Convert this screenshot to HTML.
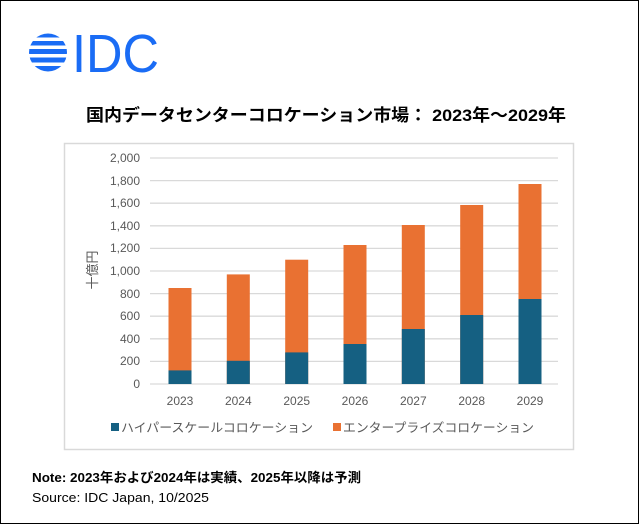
<!DOCTYPE html>
<html><head><meta charset="utf-8"><style>
html,body{margin:0;padding:0;background:#fff}
svg{display:block}
</style></head><body>
<svg width="639" height="524" viewBox="0 0 639 524" xmlns="http://www.w3.org/2000/svg" font-family="'Liberation Sans','Noto Sans CJK JP',sans-serif">
<rect x="0.5" y="0.5" width="638" height="523" fill="#fff" stroke="#000" stroke-width="1"/>
<defs><clipPath id="c"><circle cx="48" cy="52.5" r="19"/></clipPath></defs>
<g clip-path="url(#c)" fill="#1a6cf5">
<rect x="29" y="33" width="38" height="4.5"/>
<rect x="29" y="41" width="38" height="4.5"/>
<rect x="29" y="49" width="38" height="5"/>
<rect x="29" y="57.5" width="38" height="5"/>
<rect x="29" y="66" width="38" height="6"/>
</g>
<text x="72" y="72" font-size="54" fill="#1a6cf5" textLength="87" lengthAdjust="spacingAndGlyphs">IDC</text>
<text x="86" y="121" font-size="17" font-weight="bold" fill="#000" textLength="480" lengthAdjust="spacingAndGlyphs">国内データセンターコロケーション市場：  2023年～2029年</text>
<rect x="64.5" y="143.5" width="509" height="306" fill="#fff" stroke="#d9d9d9" stroke-width="1.5"/>
<g stroke="#d9d9d9" stroke-width="1.3">
<line x1="150" x2="558" y1="158" y2="158"/><line x1="150" x2="558" y1="180.6" y2="180.6"/>
<line x1="150" x2="558" y1="203.2" y2="203.2"/><line x1="150" x2="558" y1="225.8" y2="225.8"/>
<line x1="150" x2="558" y1="248.4" y2="248.4"/><line x1="150" x2="558" y1="271" y2="271"/>
<line x1="150" x2="558" y1="293.6" y2="293.6"/><line x1="150" x2="558" y1="316.2" y2="316.2"/>
<line x1="150" x2="558" y1="338.8" y2="338.8"/><line x1="150" x2="558" y1="361.4" y2="361.4"/>
<line x1="150" x2="558" y1="384" y2="384"/>
</g>
<g font-size="12" fill="#595959" text-anchor="end">
<text x="140" y="162">2,000</text><text x="140" y="185">1,800</text><text x="140" y="207">1,600</text>
<text x="140" y="230">1,400</text><text x="140" y="252">1,200</text><text x="140" y="275">1,000</text>
<text x="140" y="298">800</text><text x="140" y="320">600</text><text x="140" y="343">400</text>
<text x="140" y="365">200</text><text x="140" y="388">0</text>
</g>
<text x="0" y="0" font-size="13" fill="#595959" text-anchor="middle" transform="translate(97,270) rotate(-90)">十億円</text>
<g>
<rect x="168.5" y="288" width="23" height="96" fill="#e97132"/><rect x="168.5" y="370.4" width="23" height="13.6" fill="#156082"/>
<rect x="226.8" y="274.4" width="23" height="109.6" fill="#e97132"/><rect x="226.8" y="360.8" width="23" height="23.2" fill="#156082"/>
<rect x="285.2" y="259.7" width="23" height="124.3" fill="#e97132"/><rect x="285.2" y="352.4" width="23" height="31.6" fill="#156082"/>
<rect x="343.5" y="245" width="23" height="139" fill="#e97132"/><rect x="343.5" y="344" width="23" height="40" fill="#156082"/>
<rect x="401.8" y="225" width="23" height="159" fill="#e97132"/><rect x="401.8" y="329" width="23" height="55" fill="#156082"/>
<rect x="460.2" y="205" width="23" height="179" fill="#e97132"/><rect x="460.2" y="315" width="23" height="69" fill="#156082"/>
<rect x="518.5" y="184" width="23" height="200" fill="#e97132"/><rect x="518.5" y="299" width="23" height="85" fill="#156082"/>
</g>
<g font-size="12" fill="#595959" text-anchor="middle">
<text x="180" y="405">2023</text><text x="238.3" y="405">2024</text><text x="296.7" y="405">2025</text>
<text x="355" y="405">2026</text><text x="413.3" y="405">2027</text><text x="471.7" y="405">2028</text>
<text x="530" y="405">2029</text>
</g>
<rect x="111" y="423" width="8" height="8" fill="#156082"/>
<text x="121" y="432" font-size="12.5" fill="#595959" textLength="192" lengthAdjust="spacingAndGlyphs">ハイパースケールコロケーション</text>
<rect x="333" y="423" width="8" height="8" fill="#e97132"/>
<text x="343" y="432" font-size="12.5" fill="#595959" textLength="191" lengthAdjust="spacingAndGlyphs">エンタープライズコロケーション</text>
<text x="32" y="482" font-size="13" font-weight="bold" fill="#000" textLength="329" lengthAdjust="spacingAndGlyphs">Note: 2023年および2024年は実績、2025年以降は予測</text>
<text x="32" y="502" font-size="13" fill="#000" textLength="177" lengthAdjust="spacingAndGlyphs">Source: IDC Japan, 10/2025</text>
</svg>
</body></html>
